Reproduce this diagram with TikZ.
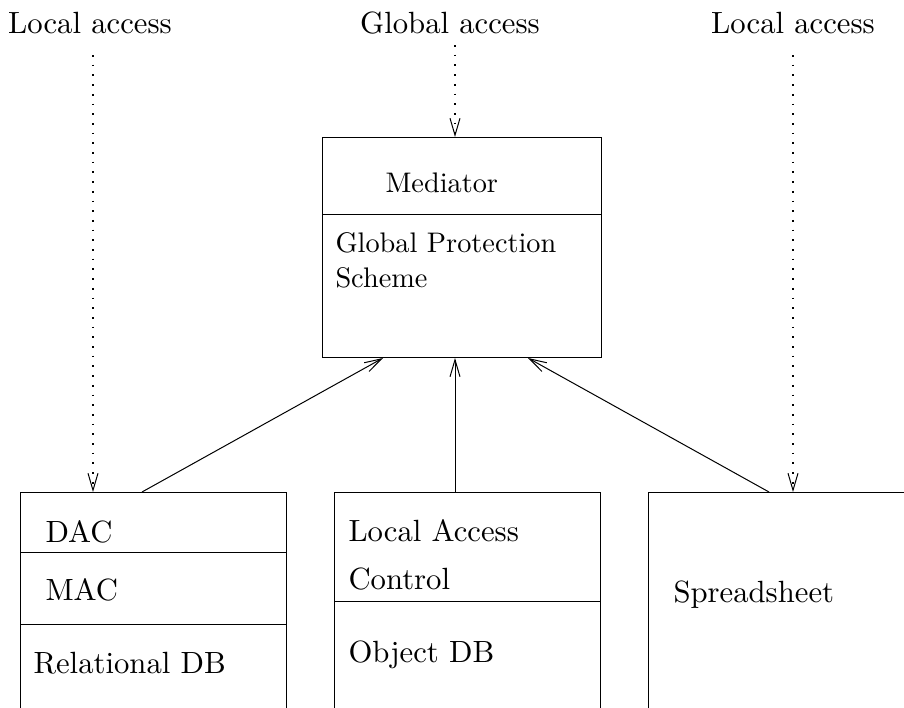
\documentclass[tikz,border=0pt]{standalone}
\usepackage{fontspec}
\setmainfont{lmroman10-regular.otf}
\usetikzlibrary{arrows.meta,calc}
\begin{document}
\begin{tikzpicture}[x=1pt,y=-1pt,line width=1pt,
  box/.style={draw,rectangle,inner sep=0pt,anchor=north west},
  lbl/.style={anchor=base west,inner sep=0pt,font=\fontsize{30.7}{36}\selectfont},
  medlbl/.style={anchor=base west,inner sep=0pt,font=\fontsize{28.3}{34}\selectfont},
  toplbl/.style={lbl,anchor=base},
  arr/.style={-{Straight Barb[length=17pt,width=10pt]}},
  dotarr/.style={-{Straight Barb[length=17pt,width=10pt,line width=1pt 0]},line width=1.7pt,dash pattern=on 1.7pt off 8pt}]
\useasboundingbox (0,0) rectangle (904,707);
\clip (0,0) rectangle (904,707);
% boxes
\node[box,minimum width=279pt,minimum height=220pt] (med) at (322,137) {};
\node[box,minimum width=266pt,minimum height=260pt] (rel) at (20,492) {};
\node[box,minimum width=266pt,minimum height=260pt] (obj) at (334,492) {};
\node[box,minimum width=320pt,minimum height=260pt] (spr) at (648,492) {};
% dividers
\draw ($(med.north west)+(0,77)$) -- ($(med.north east)+(0,77)$);
\draw ($(rel.north west)+(0,60)$) -- ($(rel.north east)+(0,60)$);
\draw ($(rel.north west)+(0,132)$) -- ($(rel.north east)+(0,132)$);
\draw ($(obj.north west)+(0,109)$) -- ($(obj.north east)+(0,109)$);
% top labels
\node[toplbl] (la1) at (90,33) {Local access};
\node[toplbl] (ga) at (450,33) {Global access};
\node[toplbl] (la2) at (793,33) {Local access};
% box texts
\node[medlbl] (tmed) at (385,192) {Mediator};
\node[medlbl] (tgps1) at (335,252) {Global Protection};
\node[medlbl] (tgps2) at (335,287) {Scheme};
\node[lbl] (tdac) at (45,542) {DAC};
\node[lbl] (tmac) at (45,600) {MAC};
\node[lbl] (trel) at (33,673) {Relational DB};
\node[lbl] (tlac1) at (348,541) {Local Access};
\node[lbl] (tlac2) at (348,589) {Control};
\node[lbl] (tobj) at (348,662) {Object DB};
\node[lbl] (tspr) at (673,602) {Spreadsheet};
% dotted access arrows
\coordinate (d1) at (93,55);
\coordinate (d2) at (455,45);
\coordinate (d3) at (793,55);
\draw[dotarr] (d1) -- (d1 |- rel.north);
\draw[dotarr] (d2) -- (d2 |- med.north);
\draw[dotarr] (d3) -- (d3 |- spr.north);
% solid arrows to mediator
\coordinate (s1) at ($(rel.north west)+(122,0)$);
\coordinate (s2) at ($(obj.north west)+(121,0)$);
\coordinate (s3) at ($(spr.north west)+(121,0)$);
\coordinate (e1) at ($(med.south west)+(61,0)$);
\coordinate (e3) at ($(med.south west)+(206,0)$);
\draw[arr] (s1) -- (e1);
\draw[arr] (s2) -- (s2 |- med.south);
\draw[arr] (s3) -- (e3);
\end{tikzpicture}
\end{document}
